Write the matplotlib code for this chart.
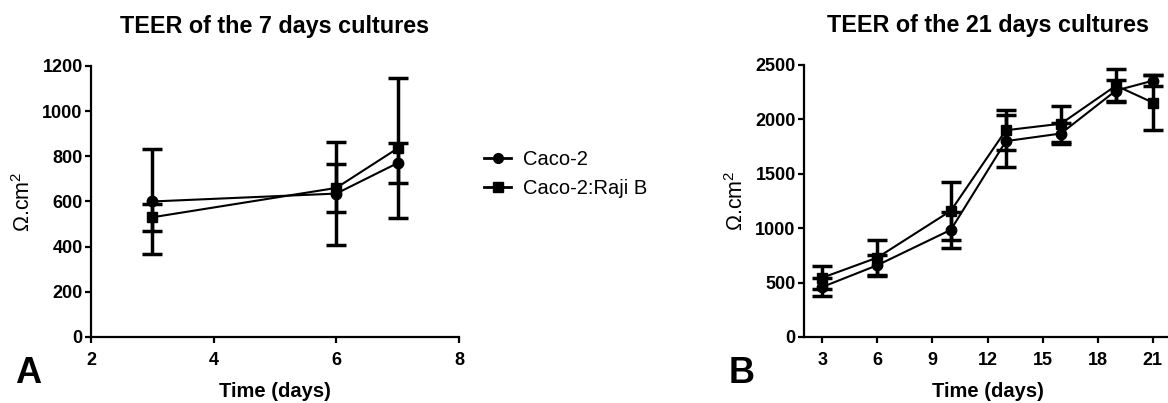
import matplotlib
matplotlib.use('Agg')
import matplotlib.pyplot as plt
from matplotlib.lines import Line2D

plt.rcParams['font.family'] = ['Liberation Sans', 'DejaVu Sans']
plt.rcParams['mathtext.fontset'] = 'custom'
plt.rcParams['mathtext.rm'] = 'Liberation Sans'

# panel A: 7 days cultures
days_a = [3, 6, 7]
caco_a = [600, 635, 770]
caco_a_sd = [232, 228, 90]
raji_a = [530, 660, 835]
raji_a_sd = [60, 105, 310]

# panel B: 21 days cultures
days_b = [3, 6, 10, 13, 16, 19, 21]
caco_b = [460, 660, 985, 1800, 1870, 2265, 2355]
caco_b_sd = [85, 90, 165, 240, 95, 95, 50]
raji_b = [545, 730, 1160, 1900, 1960, 2310, 2155]
raji_b_sd = [105, 165, 265, 185, 165, 150, 250]

labels = ['Caco-2', 'Caco-2:Raji B']

fig = plt.figure(figsize=(11.68, 4.03), dpi=100)
ax1 = fig.add_axes([0.0779, 0.1638, 0.315, 0.6725])
ax2 = fig.add_axes([0.6884, 0.1638, 0.3142, 0.675])

err_kw = dict(color='black', elinewidth=2.5, capsize=7, capthick=2.5, lw=1.5, ms=7.5)


def draw(ax, x, c, csd, r, rsd):
    ax.errorbar(x, c, yerr=csd, fmt='-o', **err_kw)
    ax.errorbar(x, r, yerr=rsd, fmt='-s', **err_kw)
    for s in ['top', 'right']:
        ax.spines[s].set_visible(False)
    for s in ['left', 'bottom']:
        ax.spines[s].set_linewidth(1.6)
    ax.tick_params(direction='out', length=4, width=1.6, labelsize=13)
    ax.tick_params(axis='x', pad=7)
    ax.tick_params(axis='y', pad=2)
    ax.set_xlabel('Time (days)', fontsize=14.5, fontweight='bold', labelpad=9)
    ax.set_ylabel('\u03a9.cm$^{2}$', fontsize=15.5, labelpad=5)


draw(ax1, days_a, caco_a, caco_a_sd, raji_a, raji_a_sd)
ax1.set_xlim(2, 8)
ax1.set_ylim(0, 1200)
ax1.set_xticks([2, 4, 6, 8])
ax1.set_yticks([0, 200, 400, 600, 800, 1000, 1200])
ax1.set_title('TEER of the 7 days cultures', fontsize=16.8, fontweight='bold', pad=24)

draw(ax2, days_b, caco_b, caco_b_sd, raji_b, raji_b_sd)
ax2.set_xlim(2, 22)
ax2.set_ylim(0, 2500)
ax2.set_xticks([3, 6, 9, 12, 15, 18, 21])
ax2.set_yticks([0, 500, 1000, 1500, 2000, 2500])
ax2.set_title('TEER of the 21 days cultures', fontsize=16.8, fontweight='bold', pad=24)

for ax in (ax1, ax2):
    for t in ax.get_xticklabels() + ax.get_yticklabels():
        t.set_fontweight('bold')

handles = [Line2D([], [], color='black', lw=2, marker='o', ms=7),
           Line2D([], [], color='black', lw=2, marker='s', ms=7)]
fig.legend(handles, labels, loc='center left', bbox_to_anchor=(0.399, 0.569),
           frameon=False, fontsize=14.5, handlelength=1.35, handletextpad=0.6,
           labelspacing=0.5)

fig.text(0.013, 0.05, 'A', fontsize=26, fontweight='bold')
fig.text(0.624, 0.05, 'B', fontsize=26, fontweight='bold')

fig.savefig('out.png', dpi=100)
